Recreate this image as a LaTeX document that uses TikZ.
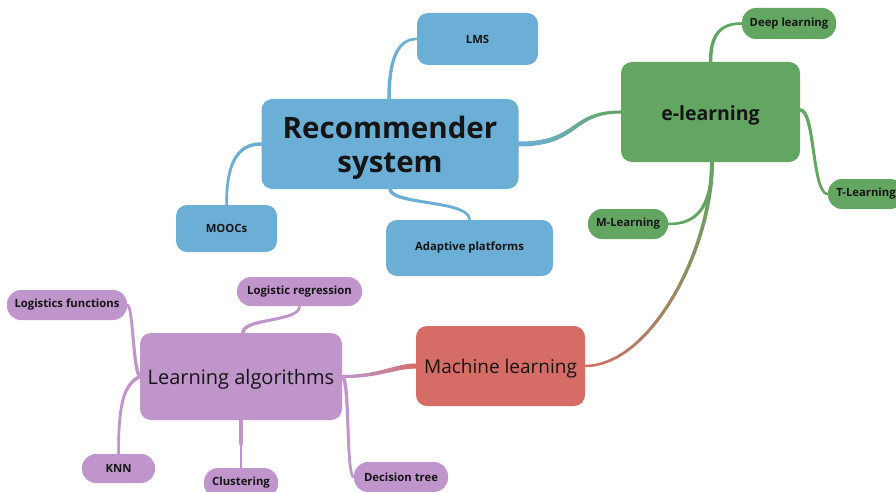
\documentclass[tikz,border=0pt]{standalone}
\usepackage{fontspec}
\setmainfont{Open Sans}
\usetikzlibrary{calc}
\definecolor{cblue}{HTML}{6CAFD6}
\definecolor{cgreen}{HTML}{62A662}
\definecolor{cred}{HTML}{D56C66}
\definecolor{cpurple}{HTML}{BF95CC}
\definecolor{ctext}{HTML}{151515}
\newcommand\dn[1]{\raisebox{-3pt}[\height][\depth]{#1}}
\tikzset{
  base/.style={rounded corners=11pt, inner sep=0pt, text=ctext, align=center},
  big/.style={base, font=\bfseries\fontsize{29.5}{34}\selectfont},
  mid/.style={base, font=\fontsize{19}{22}\selectfont},
  small/.style={base, font=\bfseries\fontsize{11.3}{14}\selectfont},
  pill/.style={base, font=\bfseries\fontsize{11.3}{14}\selectfont, rounded corners=14pt},
}
% gradient / tapered connector
\newcommand\conn[8]{%
  \foreach \i in {1,...,24}{%
    \pgfmathsetmacro\ta{(\i-1)/24}%
    \pgfmathsetmacro\tb{\i/24}%
    \pgfmathtruncatemacro\pc{100*(\i-0.5)/24}%
    \pgfmathsetmacro\lw{#7+(#8-#7)*(\i-0.5)/24}%
    \path #1 .. controls #2 and #3 .. #4 coordinate[pos=\ta] (ga) coordinate[pos=\tb] (gb);
    \draw[line width=\lw pt, line cap=round, color=#6!\pc!#5] (ga) -- (gb);
  }%
}
\begin{document}
\begin{tikzpicture}[x=1pt,y=-1pt]
\useasboundingbox (0,0) rectangle (896,492);
\fill[white] (0,0) rectangle (896,492);
% nodes
\node[base, fill=cblue, minimum width=257pt, minimum height=90pt] (rec) at (390,144) {};
\node[big] (rectext) at (390,148) {Recommender\\system};
\node[small, fill=cblue, minimum width=121pt, minimum height=52pt] (lms) at (477.5,39) {LMS};
\node[small, fill=cblue, minimum width=101pt, minimum height=47pt] (moocs) at (226.5,228.5) {MOOCs};
\node[small, fill=cblue, minimum width=167pt, minimum height=56pt] (adapt) at (469.5,248) {Adaptive platforms};
\node[big, font=\bfseries\fontsize{19.5}{23}\selectfont, fill=cgreen, minimum width=179pt, minimum height=100pt] (elearn) at (710.5,112) {\dn{e-learning}};
\node[pill, fill=cgreen, minimum width=94pt, minimum height=31pt] (deep) at (789,23.5) {Deep learning};
\node[pill, fill=cgreen, minimum width=76pt, minimum height=30pt] (tlearn) at (866,194) {T-Learning};
\node[pill, fill=cgreen, minimum width=80pt, minimum height=30pt] (mlearn) at (628,224) {M-Learning};
\node[mid, fill=cred, minimum width=169pt, minimum height=80pt] (ml) at (500.5,366) {\dn{Machine learning}};
\node[mid, font=\fontsize{20}{23}\selectfont, fill=cpurple, minimum width=202pt, minimum height=87pt] (la) at (241,376.5) {\dn{Learning algorithms}};
\node[pill, fill=cpurple, minimum width=120pt, minimum height=30pt] (lf) at (67,305) {Logistics functions};
\node[pill, fill=cpurple, minimum width=125pt, minimum height=29pt] (lr) at (299.5,291.5) {Logistic regression};
\node[pill, fill=cpurple, minimum width=73pt, minimum height=29pt] (knn) at (118.5,468.5) {KNN};
\node[pill, fill=cpurple, minimum width=74pt, minimum height=30pt] (clust) at (241,483) {Clustering};
\node[pill, fill=cpurple, minimum width=94pt, minimum height=30pt] (dt) at (401,477) {Decision tree};
% connectors
\conn{([xshift=-1pt]rec.north)}{+(0,-44)}{+(-17,0)}{(lms.west)}{cblue}{cblue}{3.5}{2.5}
\conn{(rec.west)}{+(-22,0)}{+(0,-45)}{(moocs.north)}{cblue}{cblue}{3.5}{2.5}
\conn{(rec.south)}{+(2,16)}{+(0,-20)}{(adapt.north)}{cblue}{cblue}{3.5}{2.5}
\conn{(rec.east)}{+(61,0)}{+(-51,0)}{(elearn.west)}{cblue}{cgreen}{5}{3}
\conn{(elearn.north)}{+(0,-32)}{+(-17,0)}{(deep.west)}{cgreen}{cgreen}{3.5}{2.5}
\conn{([yshift=2pt]elearn.east)}{+(15,0)}{+(-16,0)}{(tlearn.west)}{cgreen}{cgreen}{3.5}{2.5}
\conn{([xshift=1.5pt]elearn.south)}{+(0,53)}{+(22,0)}{(mlearn.east)}{cgreen}{cgreen}{3.5}{2.5}
\conn{([xshift=1.5pt]elearn.south)}{+(0,88)}{+(65,0)}{(ml.east)}{cgreen}{cred}{4}{2.5}
\conn{(ml.west)}{+(-21,0)}{+(38,0)}{(la.east)}{cred}{cpurple}{5}{3}
\conn{(la.west)}{+(-7,-7)}{+(6,0)}{(lf.east)}{cpurple}{cpurple}{3.5}{2.5}
\conn{(la.west)}{+(-15,8)}{+(0,-54)}{(knn.north)}{cpurple}{cpurple}{3.5}{2.5}
\conn{([xshift=2pt]la.north)}{+(0,-15)}{+(0,16)}{(lr.south)}{cpurple}{cpurple}{3.5}{2.5}
\conn{(la.south)}{+(0,15)}{+(0,-15)}{(clust.north)}{cpurple}{cpurple}{3.5}{2.5}
\conn{(la.east)}{+(8,3)}{+(-8,0)}{(dt.west)}{cpurple}{cpurple}{3.5}{2.5}
\end{tikzpicture}
\end{document}
